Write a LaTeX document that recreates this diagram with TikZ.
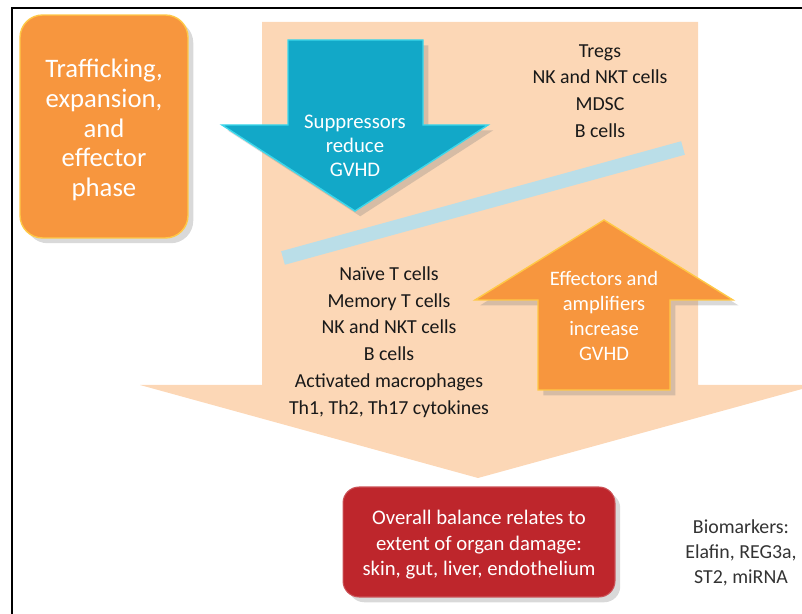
\documentclass[tikz,border=0pt]{standalone}
\usepackage{fontspec}
\setmainfont{Carlito}
\usetikzlibrary{shadows,positioning}

\definecolor{peach}{RGB}{252,215,182}
\definecolor{phaseorange}{RGB}{247,150,62}
\definecolor{glowyellow}{RGB}{255,200,70}
\definecolor{suppcyan}{RGB}{18,168,200}
\definecolor{suppedge}{RGB}{60,215,235}
\definecolor{bandblue}{RGB}{186,222,232}
\definecolor{balancered}{RGB}{190,38,44}
\definecolor{celltext}{RGB}{25,25,25}

\begin{document}
\begin{tikzpicture}[x=0.02cm,y=-0.02cm,
  softshadow/.style={drop shadow={opacity=0.3,shadow xshift=3pt,shadow yshift=-3pt}},
  celllist/.style={align=center,text=celltext,font=\fontsize{11.3}{15.2}\selectfont},
  whitetext/.style={align=center,text=white},
  phasebox/.style={fill=phaseorange,draw=glowyellow,line width=0.8pt,rounded corners=0.45cm,
    minimum width=3.36cm,minimum height=4.46cm,softshadow},
  balancebox/.style={fill=balancered,draw=balancered!80!white,line width=0.6pt,rounded corners=0.32cm,
    minimum width=5.44cm,minimum height=2.2cm,softshadow}]
  \useasboundingbox (0,0) rectangle (802,614);
  % frame
  \draw[line width=1.1pt] (12,614) -- (12,8) -- (802,8);

  % big peach arrow behind everything
  \fill[peach] (262,22) -- (698,22) -- (698,385) -- (802,385) -- (802,389)
    -- (478,478) -- (140,385) -- (262,385) -- cycle;

  % balance line
  \coordinate (bandL) at (283,258);
  \coordinate (bandR) at (683,148);
  \draw[bandblue,line width=0.28cm] (bandL) -- (bandR);

  % suppressor arrow
  \fill[suppcyan,draw=suppedge,line width=0.8pt,softshadow]
    (288,40) -- (423,40) -- (423,125) -- (488,125) -- (355,211) -- (222,125) -- (288,125) -- cycle;
  \node[whitetext,font=\fontsize{11.8}{13.6}\selectfont] (supp) at (355,146)
    {Suppressors\\reduce\\GVHD};

  % effector arrow
  \fill[phaseorange,draw=glowyellow,line width=0.8pt,softshadow]
    (538,390) -- (670,390) -- (670,300) -- (733,300) -- (604,220) -- (475,300) -- (538,300) -- cycle;
  \node[whitetext,font=\fontsize{11.7}{14.2}\selectfont] (eff) at (604,316)
    {Effectors and\\amplifiers\\increase\\GVHD};

  % phase box
  \node[phasebox] (phase) at (104,126.5) {};
  \node[whitetext,font=\fontsize{15.2}{17}\selectfont] (phasetxt) at (104,130)
    {Trafficking,\\expansion,\\and\\effector\\phase};

  % cell lists
  \node[celllist] (suppcells) at (600,91)
    {Tregs\\NK and NKT cells\\MDSC\\B cells};
  \node[celllist] (effcells) at (389,342)
    {Na\"ive T cells\\Memory T cells\\NK and NKT cells\\B cells\\Activated macrophages\\Th1, Th2, Th17 cytokines};

  % outcome
  \node[balancebox] (balance) at (479,542) {};
  \node[whitetext,font=\fontsize{11.8}{14.5}\selectfont] (balancetxt) at (479,545)
    {Overall balance relates to\\extent of organ damage:\\skin, gut, liver, endothelium};
  \node[align=center,text=black!80,font=\fontsize{11.3}{14.2}\selectfont] (markers) at (741,553)
    {Biomarkers:\\Elafin, REG3a,\\ST2, miRNA};
\end{tikzpicture}
\end{document}
